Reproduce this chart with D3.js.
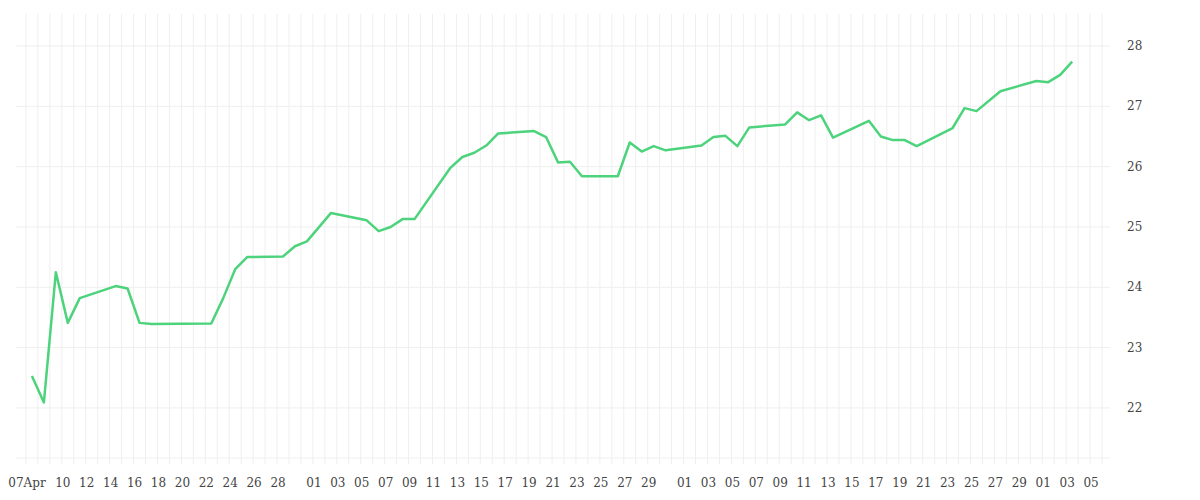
<!DOCTYPE html>
<html>
<head>
<meta charset="utf-8">
<script src="https://cdn.jsdelivr.net/npm/d3@7"></script>
<style>
  body { margin: 0; background: #fff; }
  text { font-family: "DejaVu Serif", "Liberation Serif", serif; font-size: 12px; fill: #444; }
</style>
</head>
<body>
<div id="chart"></div>
<script>
  // observation dates (month-day, 2025)
  var dates = [
    "04-07","04-08","04-09","04-10","04-11","04-14","04-15","04-16","04-17","04-22",
    "04-23","04-24","04-25","04-28","04-29","04-30","05-02","05-05","05-06","05-07",
    "05-08","05-09","05-12","05-13","05-14","05-15","05-16","05-19","05-20","05-21",
    "05-22","05-23","05-26","05-27","05-28","05-29","05-30","06-02","06-03","06-04",
    "06-05","06-06","06-09","06-10","06-11","06-12","06-13","06-16","06-17","06-18",
    "06-19","06-20","06-23","06-24","06-25","06-27","06-30","07-01","07-02","07-03"
  ];
  var values = [
    22.53, 22.09, 24.25, 23.41, 23.82, 24.02, 23.98, 23.41, 23.39, 23.40,
    23.82, 24.30, 24.50, 24.51, 24.68, 24.76, 25.23, 25.11, 24.93, 25.00,
    25.13, 25.13, 25.98, 26.16, 26.23, 26.35, 26.55, 26.59, 26.49, 26.07,
    26.08, 25.84, 25.84, 26.40, 26.25, 26.34, 26.27, 26.35, 26.49, 26.51,
    26.34, 26.65, 26.70, 26.90, 26.77, 26.85, 26.48, 26.76, 26.50, 26.44,
    26.44, 26.34, 26.64, 26.97, 26.92, 27.25, 27.42, 27.40, 27.52, 27.74
  ];
  var tickDates = [
    "04-07","04-10","04-12","04-14","04-16","04-18","04-20","04-22","04-24","04-26","04-28",
    "05-01","05-03","05-05","05-07","05-09","05-11","05-13","05-15","05-17","05-19","05-21",
    "05-23","05-25","05-27","05-29",
    "06-01","06-03","06-05","06-07","06-09","06-11","06-13","06-15","06-17","06-19","06-21",
    "06-23","06-25","06-27","06-29","07-01","07-03","07-05"
  ];
  var yTicks = [22, 23, 24, 25, 26, 27, 28];

  (function() {
    var parse = d3.timeParse("%Y-%m-%d");
    function day(s) { return parse("2025-" + s); }

    var width = 1200, height = 500;
    var pLeft = 16, pRight = 1110, pTop = 14, pBottom = 458;

    var x = d3.scaleTime()
        .domain([day("04-06"), day("07-07")])
        .range([pLeft - 2, pRight + 4]);
    var y = d3.scaleLinear().domain([21.17, 28.53]).range([pBottom, pTop]);

    var svg = d3.select("#chart").append("svg")
        .attr("width", width)
        .attr("height", height);

    // daily vertical grid
    var gridDays = d3.timeDay.range(day("04-06"), day("07-08"))
        .filter(function(d) { return x(d) >= pLeft && x(d) <= pRight; });
    svg.append("g").selectAll("line")
        .data(gridDays)
      .enter().append("line")
        .attr("x1", function(d) { return x(d); })
        .attr("x2", function(d) { return x(d); })
        .attr("y1", pTop)
        .attr("y2", pBottom + 6)
        .attr("stroke", "#efefef");

    svg.append("g").selectAll("line")
        .data(yTicks)
      .enter().append("line")
        .attr("x1", pLeft)
        .attr("x2", pRight)
        .attr("y1", function(d) { return y(d); })
        .attr("y2", function(d) { return y(d); })
        .attr("stroke", "#efefef");
    svg.append("line")
        .attr("x1", pLeft).attr("x2", pRight)
        .attr("y1", pBottom).attr("y2", pBottom)
        .attr("stroke", "#efefef");

    svg.append("g").selectAll("text")
        .data(yTicks)
      .enter().append("text")
        .attr("x", 1127)
        .attr("y", function(d) { return y(d) + 4; })
        .text(function(d) { return d; });

    svg.append("g").selectAll("text")
        .data(tickDates)
      .enter().append("text")
        .attr("x", function(d) { return x(day(d)) + 1; })
        .attr("y", 487)
        .attr("text-anchor", "middle")
        .text(function(d) {
          return d === "04-07" ? "07Apr" : d3.timeFormat("%d")(day(d));
        });

    var pts = dates.map(function(d, i) {
      return { t: d3.timeHour.offset(day(d), 12), v: values[i] };
    });
    var line = d3.line()
        .x(function(d) { return x(d.t); })
        .y(function(d) { return y(d.v); });
    svg.append("path")
        .datum(pts)
        .attr("fill", "none")
        .attr("stroke", "#4cd37c")
        .attr("stroke-width", 2.5)
        .attr("stroke-linejoin", "round")
        .attr("d", line);
  })();
</script>
</body>
</html>
